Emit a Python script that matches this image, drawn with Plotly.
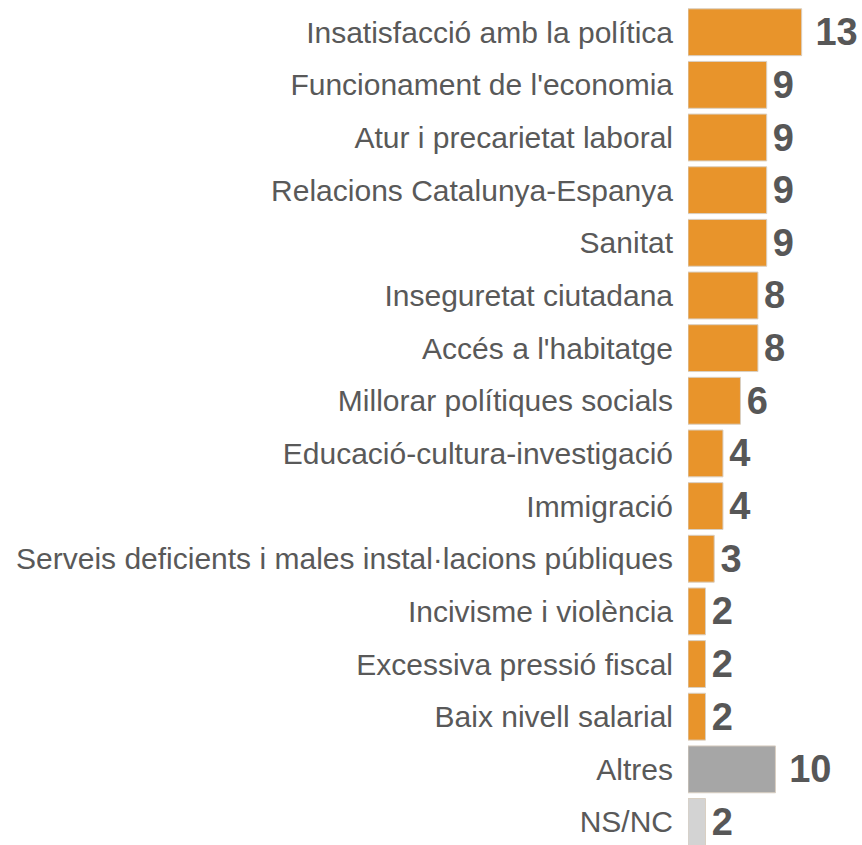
import plotly.graph_objects as go

categories = [
    "Insatisfacció amb la política",
    "Funcionament de l'economia",
    "Atur i precarietat laboral",
    "Relacions Catalunya-Espanya",
    "Sanitat",
    "Inseguretat ciutadana",
    "Accés a l'habitatge",
    "Millorar polítiques socials",
    "Educació-cultura-investigació",
    "Immigració",
    "Serveis deficients i males instal·lacions públiques",
    "Incivisme i violència",
    "Excessiva pressió fiscal",
    "Baix nivell salarial",
    "Altres",
    "NS/NC",
]
values = [13, 9, 9, 9, 9, 8, 8, 6, 4, 4, 3, 2, 2, 2, 10, 2]
bar_colors = ["#E8942B"] * 14 + ["#A6A6A6", "#D3D3D3"]

# small leading gap before the value labels (wider for two-digit numbers, as in the original)
labels = [("\u2009\u200a" if v >= 10 else "\u200a") + str(v) for v in values]

fig = go.Figure(
    go.Bar(
        y=categories,
        x=values,
        orientation="h",
        marker=dict(color=bar_colors, line=dict(color="#D9CFC2", width=1)),
        text=labels,
        textposition="outside",
        textfont=dict(family="Liberation Sans, Arial, sans-serif", size=38, color="#575757", weight="bold"),
        cliponaxis=False,
        hoverinfo="skip",
    )
)

fig.update_layout(
    width=862,
    height=845,
    margin=dict(l=688, r=0, t=6, b=0, autoexpand=False),
    paper_bgcolor="white",
    plot_bgcolor="white",
    bargap=0.11,
    showlegend=False,
    font=dict(family="Liberation Sans, Arial, sans-serif", color="#595959"),
)
fig.update_xaxes(range=[0, 19.9], visible=False, showgrid=False, zeroline=False, automargin=False)
fig.update_yaxes(
    range=[15.437, -0.498],
    automargin=False,
    showgrid=False,
    showline=False,
    zeroline=False,
    ticks="",
    ticklabelstandoff=14,
    tickfont=dict(family="Liberation Sans, Arial, sans-serif", size=30, color="#595959"),
)

fig.write_html(
    "out.html",
    config={"displayModeBar": False, "staticPlot": True},
    post_script="document.body.style.margin='0';document.body.style.overflow='hidden';",
)
